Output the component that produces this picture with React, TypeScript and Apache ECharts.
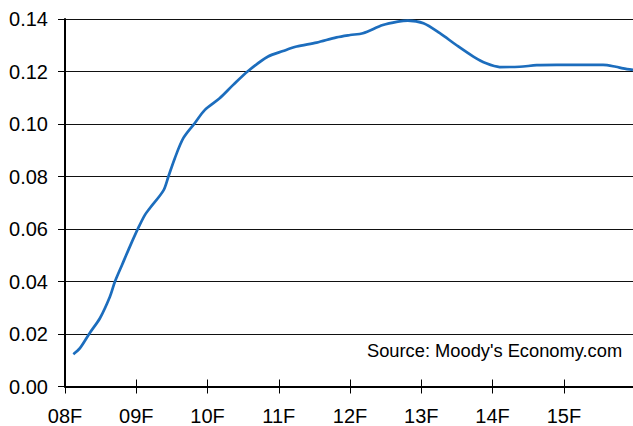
import React, { useEffect, useRef } from "react";
import * as echarts from "echarts";

// Years since 2008 (08F = 0)
const periodX = [
  0.117, 0.21, 0.35, 0.49, 0.63, 0.7, 0.8, 0.91, 1.03, 1.12, 1.19, 1.38, 1.45, 1.54,
  1.66, 1.82, 1.96, 2.17, 2.36, 2.57, 2.85, 3.06, 3.25, 3.53, 3.81, 4.0, 4.18, 4.46,
  4.67, 4.81, 5.03, 5.26, 5.49, 5.73, 5.91, 6.1, 6.38, 6.62, 6.9, 7.22, 7.55, 7.73,
  7.83, 7.97,
];
const rate = [
  0.0123, 0.0146, 0.0205, 0.026, 0.0342, 0.0399, 0.0463, 0.0533, 0.0605, 0.0653,
  0.0679, 0.0746, 0.0799, 0.0869, 0.0946, 0.1003, 0.1053, 0.1098, 0.1149, 0.1202,
  0.1257, 0.1278, 0.1295, 0.131, 0.133, 0.1339, 0.1346, 0.1377, 0.139, 0.1394,
  0.1384, 0.1346, 0.1301, 0.1257, 0.1231, 0.1217, 0.1218, 0.1224, 0.1225, 0.1225,
  0.1225, 0.1218, 0.1212, 0.1206,
];
const xTickLabels = ["08F", "09F", "10F", "11F", "12F", "13F", "14F", "15F"];
const sourceText = "Source: Moody's Economy.com";

const FONT = "'Liberation Sans', Arial, Helvetica, sans-serif";

export default function App() {
  const ref = useRef<HTMLDivElement>(null);
  useEffect(() => {
    if (!ref.current) return;
    const chart = echarts.init(ref.current, null, { renderer: "svg" });
    const data = periodX.map((x, i) => [x, rate[i]]);
    chart.setOption({
      animation: false,
      backgroundColor: "#ffffff",
      grid: {
        left: 65,
        top: 19,
        right: 0,
        bottom: 39.5,
        containLabel: false,
        outerBoundsMode: "none",
      },
      xAxis: [
        {
          type: "value",
          min: 0,
          max: 7.97,
          interval: 1,
          position: "bottom",
          axisLine: { show: true, onZero: false, lineStyle: { color: "#000", width: 2 } },
          axisTick: { show: true, inside: false, length: 7, lineStyle: { color: "#000", width: 1 } },
          axisLabel: {
            color: "#000",
            fontSize: 20,
            lineHeight: 20,
            fontFamily: FONT,
            margin: 19,
            showMaxLabel: false,
            formatter: (v: number) => xTickLabels[Math.round(v)] ?? "",
          },
          splitLine: { show: false },
        },
        {
          type: "value",
          min: 0,
          max: 7.97,
          interval: 1,
          position: "bottom",
          offset: 0,
          axisLine: { show: false },
          axisTick: { show: true, inside: true, length: 7, lineStyle: { color: "#000", width: 1 } },
          axisLabel: { show: false },
          splitLine: { show: false },
        },
      ],
      yAxis: {
        type: "value",
        min: 0,
        max: 0.14,
        interval: 0.02,
        axisLine: { show: true, lineStyle: { color: "#000", width: 2 } },
        axisTick: { show: true, inside: false, length: 7, lineStyle: { color: "#000", width: 1 } },
        axisLabel: {
          color: "#000",
          fontSize: 20,
          fontFamily: FONT,
          margin: 17,
          formatter: (v: number) => v.toFixed(2),
        },
        splitLine: { show: true, lineStyle: { color: "#111", width: 1 } },
      },
      series: [
        {
          type: "line",
          xAxisIndex: 0,
          data,
          smooth: 0.3,
          showSymbol: false,
          symbol: "none",
          lineStyle: { color: "#1c6dbd", width: 2.7 },
        },
      ],
      graphic: [
        {
          type: "text",
          left: 367,
          top: 341,
          style: {
            text: sourceText,
            fill: "#000",
            font: `18.3px ${FONT}`,
          },
        },
      ],
    });
    return () => chart.dispose();
  }, []);
  return (
    <div
      ref={ref}
      style={{ position: "fixed", left: 0, top: 0, width: 633, height: 426 }}
    />
  );
}
